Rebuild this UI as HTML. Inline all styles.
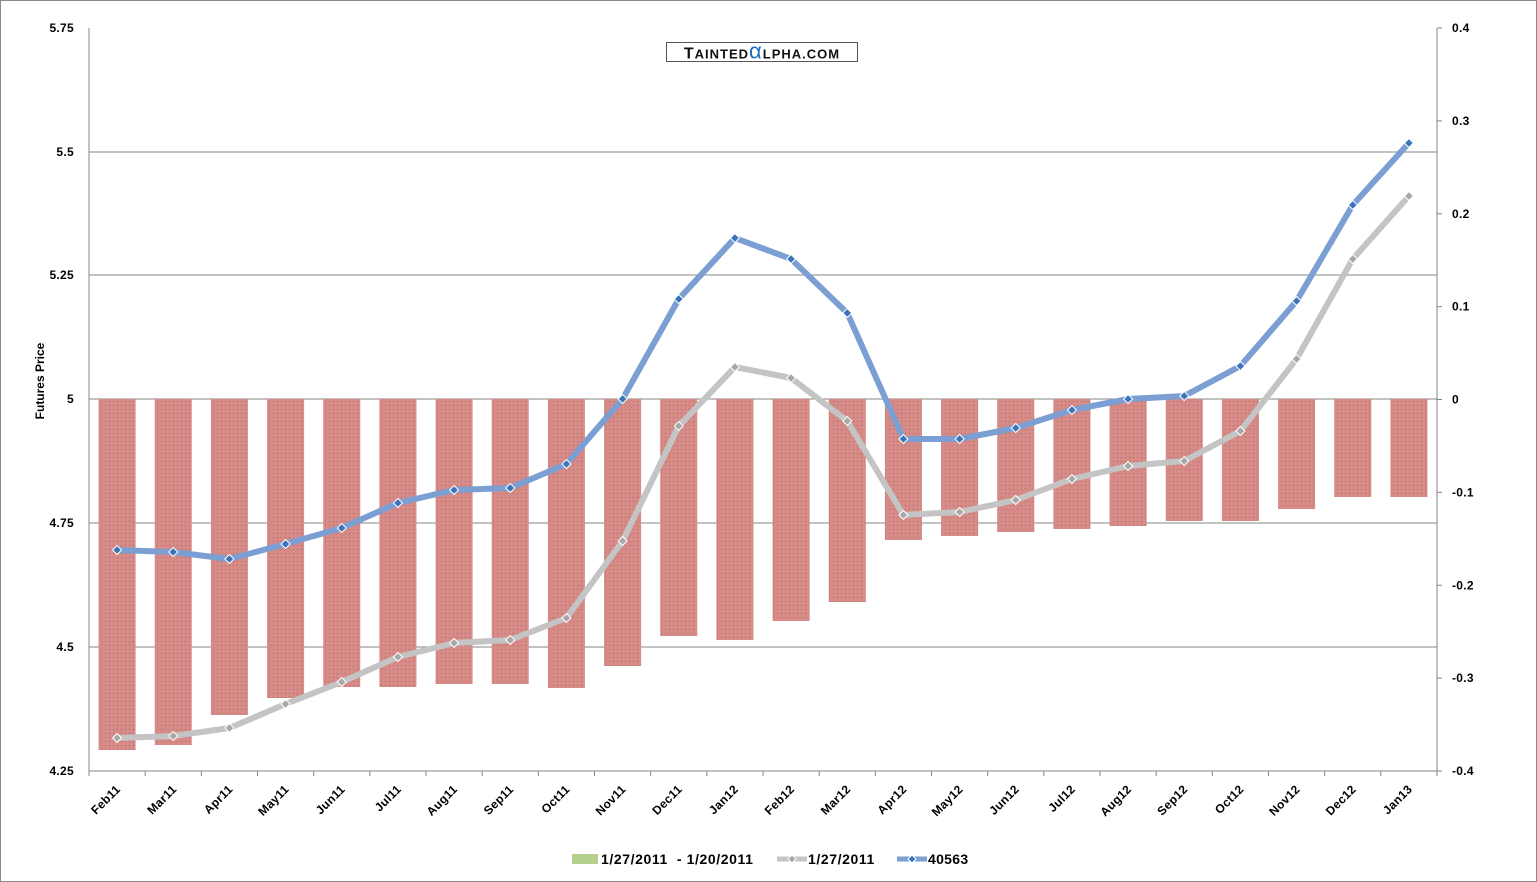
<!DOCTYPE html>
<html><head><meta charset="utf-8"><style>
html,body{margin:0;padding:0;background:#fff}
svg{display:block;font-family:"Liberation Sans",Arial,sans-serif}
</style></head><body>
<svg id="c" width="1537" height="882" xmlns="http://www.w3.org/2000/svg">
<defs>
<pattern id="dots" width="4" height="4" patternUnits="userSpaceOnUse">
<rect width="4" height="4" fill="#d88a86"/><rect x="1" y="1" width="1" height="1" fill="#a07070"/>
</pattern>
</defs>
<rect x="0.5" y="0.5" width="1536" height="881" fill="#fff" stroke="#888"/>
<g id="g"></g>
</svg>
<script>
const g=document.getElementById('g');
const L=89,R=1437,T=28,B=771,n=24,w=(R-L)/n;
const labs="Feb11 Mar11 Apr11 May11 Jun11 Jul11 Aug11 Sep11 Oct11 Nov11 Dec11 Jan12 Feb12 Mar12 Apr12 May12 Jun12 Jul12 Aug12 Sep12 Oct12 Nov12 Dec12 Jan13".split(' ');
const blue=[550,552,559,544,528,503,490,488,464,399,299,238,259,313,439,439,428,410,399,396,366,301,205,143];
const gray=[738,736,728,704,682,657,643,640,618,541,426,367,378,421,515,512,500,479,466,461,431,359,259,196];
const bars=[750,745,715,698,687,687,684,684,688,666,636,640,621,602,540,536,532,529,526,521,521,509,497,497];
let s='';
[[5.75,28],[5.5,152],[5.25,275],[5,399],[4.75,523],[4.5,647],[4.25,771]].forEach(([v,y])=>{
 if(y!=771&&y!=28) s+=`<line x1="${L}" y1="${y}" x2="${R}" y2="${y}" stroke="#868686" stroke-width="1"/>`;
 s+=`<text x="74" y="${y+4}" font-size="12" font-weight="bold" text-anchor="end" letter-spacing="0.3">${v}</text>`;
});
[0.4,0.3,0.2,0.1,0,-0.1,-0.2,-0.3,-0.4].forEach((v,i)=>{
 const y=28+i*(B-T)/8;
 s+=`<text x="1452" y="${y+4}" font-size="12" font-weight="bold" letter-spacing="0.3">${v}</text>`;
 s+=`<line x1="${R}" y1="${y}" x2="${R+5}" y2="${y}" stroke="#868686"/>`;
});
for(let i=0;i<n;i++){const cx=L+w*(i+.5);
 s+=`<rect x="${cx-18.5}" y="399" width="37" height="${bars[i]-399}" fill="url(#dots)"/>`;}
s+=`<line x1="${L}" y1="${T}" x2="${L}" y2="${B}" stroke="#868686"/><line x1="${R}" y1="${T}" x2="${R}" y2="${B}" stroke="#868686"/><line x1="${L}" y1="${B}" x2="${R}" y2="${B}" stroke="#868686"/>`;
for(let i=0;i<=n;i++){const x=L+w*i;s+=`<line x1="${x}" y1="${B}" x2="${x}" y2="${B+5}" stroke="#868686"/>`;}
function line(d,col,mk){let p=d.map((y,i)=>`${L+w*(i+.5)},${y}`).join(' ');
 let r=`<polyline points="${p}" fill="none" stroke="${col}" stroke-width="6" stroke-linejoin="round"/>`;
 d.forEach((y,i)=>{const x=L+w*(i+.5);r+=`<polygon points="${x},${y-4.5} ${x+4.5},${y} ${x},${y+4.5} ${x-4.5},${y}" fill="${mk}" stroke="#fff" stroke-width="1"/>`;});return r;}
s+=line(gray,'#c4c4c4','#a8a8a8');
s+=line(blue,'#7b9fd2','#3c74bb');
labs.forEach((l,i)=>{const x=L+w*(i+.5)+4;s+=`<text transform="translate(${x},790) rotate(-45)" font-size="12" font-weight="bold" text-anchor="end" letter-spacing="0.3">${l}</text>`;});
s+=`<text transform="translate(44,381) rotate(-90)" font-size="12" font-weight="bold" text-anchor="middle">Futures Price</text>`;
s+=`<rect x="666.5" y="42.5" width="191" height="19" fill="#fff" stroke="#555"/>`;
s+=`<text x="762" y="58.5" font-size="16" text-anchor="middle" font-weight="bold" fill="#111" letter-spacing="1">T<tspan font-size="13">AINTED</tspan><tspan fill="#1a6fc0" font-size="22" font-weight="normal">α</tspan><tspan font-size="13">LPHA.COM</tspan></text>`;
s+=`<rect x="572" y="854" width="26" height="10" fill="#b5d08a"/><text x="601" y="864" font-size="14" font-weight="bold" letter-spacing="0.6" xml:space="preserve">1/27/2011  - 1/20/2011</text>`;
s+=`<line x1="777" y1="859" x2="807" y2="859" stroke="#c4c4c4" stroke-width="5"/><polygon points="792,855 796,859 792,863 788,859" fill="#a8a8a8" stroke="#fff"/><text x="808" y="864" font-size="14" font-weight="bold" letter-spacing="0.6">1/27/2011</text>`;
s+=`<line x1="897" y1="859" x2="927" y2="859" stroke="#7b9fd2" stroke-width="5"/><polygon points="912,855 916,859 912,863 908,859" fill="#3c74bb" stroke="#fff"/><text x="928" y="864" font-size="14" font-weight="bold" letter-spacing="0.3">40563</text>`;
g.innerHTML=s;
</script>
</body></html>
